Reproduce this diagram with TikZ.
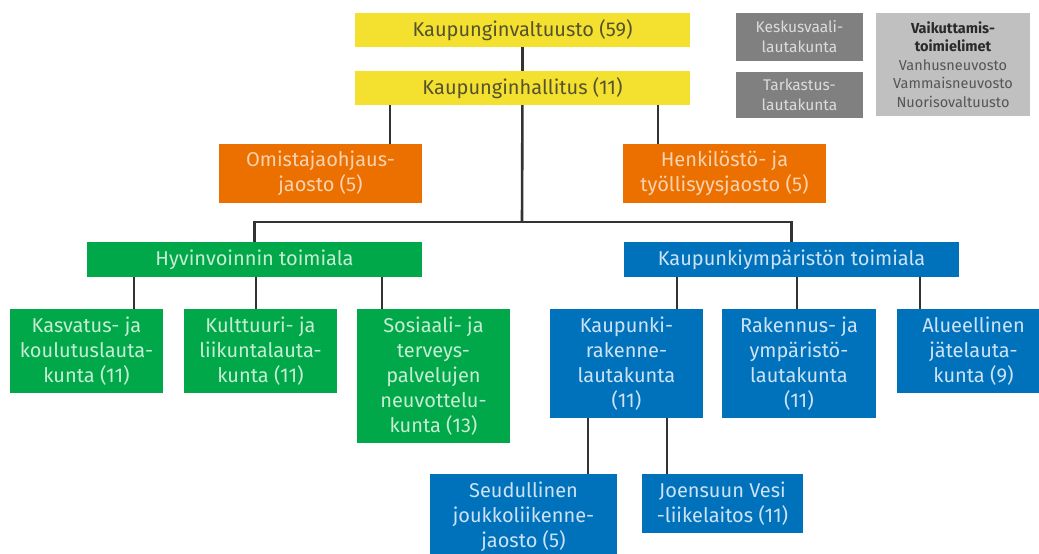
\documentclass[tikz,border=0pt]{standalone}
\usepackage{fontspec}
\setmainfont{Fira Sans}
\definecolor{kvyellow}{HTML}{F4E02E}
\definecolor{kvorange}{HTML}{EB7000}
\definecolor{kvgreen}{HTML}{00A84A}
\definecolor{kvblue}{HTML}{0072BC}
\definecolor{kvdarkgray}{HTML}{808080}
\definecolor{kvlightgray}{HTML}{C0C0C0}
\definecolor{yellowtext}{HTML}{55532F}
\definecolor{orangetext}{HTML}{FAD2B0}
\definecolor{greentext}{HTML}{C6EDD3}
\definecolor{bluetext}{HTML}{CDE2F4}
\definecolor{darkgraytext}{HTML}{DCDCDC}
\definecolor{lightgraytext}{HTML}{555555}
\definecolor{titletext}{HTML}{2A2A2A}
\definecolor{linegray}{HTML}{333333}

\begin{document}
\begin{tikzpicture}[x=1pt,y=-1pt,
  orgbox/.style={inner sep=0pt,align=center,font=\fontsize{20}{25}\selectfont},
  yellowbox/.style={orgbox,fill=kvyellow,text=yellowtext},
  orangebox/.style={orgbox,fill=kvorange,text=orangetext},
  greenbox/.style={orgbox,fill=kvgreen,text=greentext},
  bluebox/.style={orgbox,fill=kvblue,text=bluetext},
  graybox/.style={inner sep=0pt,align=center},
  darkgraybox/.style={graybox,fill=kvdarkgray,text=darkgraytext,font=\fontsize{15.5}{20}\selectfont},
  lightgraybox/.style={graybox,fill=kvlightgray,text=lightgraytext,font=\fontsize{14.5}{18.5}\selectfont},
  link/.style={draw=linegray,line width=2.6pt}]
\useasboundingbox (0,0) rectangle (1039,554);

\node[yellowbox,minimum width=335pt,minimum height=34pt] (valt) at (522.5,30) {Kaupunginvaltuusto (59)};
\node[yellowbox,minimum width=335pt,minimum height=34pt] (hall) at (522.5,88) {Kaupunginhallitus (11)};
\node[orangebox,minimum width=203pt,minimum height=59pt] (omis) at (320.5,173.5) {Omistajaohjaus-\\jaosto (5)};
\node[orangebox,minimum width=203pt,minimum height=59pt] (henk) at (724.5,173.5) {Henkilöstö- ja\\työllisyysjaosto (5)};
\node[greenbox,minimum width=335pt,minimum height=35pt] (hyv) at (254.5,259.5) {Hyvinvoinnin toimiala};
\node[bluebox,minimum width=335pt,minimum height=35pt] (kymp) at (791.5,259.5) {Kaupunkiympäristön toimiala};

\node[greenbox,minimum width=153pt,minimum height=84pt] (kasv) at (86.5,351) {Kasvatus- ja\\koulutuslauta-\\kunta (11)};
\node[greenbox,minimum width=153pt,minimum height=84pt] (kult) at (260.5,351) {Kulttuuri- ja\\liikuntalauta-\\kunta (11)};
\node[greenbox,minimum width=153pt,minimum height=134pt] (sote) at (433.5,376) {Sosiaali- ja\\terveys-\\palvelujen\\neuvottelu-\\kunta (13)};
\node[bluebox,minimum width=153pt,minimum height=109pt] (kaura) at (626.5,363.5) {Kaupunki-\\rakenne-\\lautakunta\\(11)};
\node[bluebox,minimum width=154pt,minimum height=109pt] (raky) at (799,363.5) {Rakennus- ja\\ympäristö-\\lautakunta\\(11)};
\node[bluebox,minimum width=153pt,minimum height=84pt] (jate) at (973.5,351) {Alueellinen\\jätelauta-\\kunta (9)};
\node[bluebox,minimum width=187pt,minimum height=86pt] (joli) at (523.5,517) {Seudullinen\\joukkoliikenne-\\jaosto (5)};
\node[bluebox,minimum width=161pt,minimum height=59pt] (vesi) at (722.5,503.5) {Joensuun Vesi\\-liikelaitos (11)};

\node[darkgraybox,minimum width=127pt,minimum height=48pt] (kvl) at (799.5,37) {Keskusvaali-\\lautakunta};
\node[darkgraybox,minimum width=127pt,minimum height=46pt] (tark) at (799.5,95) {Tarkastus-\\lautakunta};
\node[lightgraybox,minimum width=154pt,minimum height=103pt] (vaik) at (953,64.5) {\textcolor{titletext}{\bfseries Vaikuttamis-}\\\textcolor{titletext}{\bfseries toimielimet}\\Vanhusneuvosto\\Vammaisneuvosto\\Nuorisovaltuusto};

\coordinate (split) at (522,222);
\coordinate (omisx) at (390,0);
\coordinate (henkx) at (658,0);
\coordinate (kasvx) at (134,0);
\coordinate (kultx) at (256,0);
\coordinate (sotex) at (382,0);
\coordinate (kaurax) at (677,0);
\coordinate (rakyx) at (797,0);
\coordinate (jatex) at (920,0);
\coordinate (jolix) at (588,0);
\coordinate (vesix) at (667,0);

\draw[link] (valt) -- (hall);
\draw[link] (hall.south -| omisx) -- (omis.north -| omisx);
\draw[link] (hall.south -| henkx) -- (henk.north -| henkx);
\draw[link] (hall) -- (split);
\draw[link] (hyv) |- (split) -| (kymp);
\draw[link] (hyv.south -| kasvx) -- (kasv.north -| kasvx);
\draw[link] (hyv.south -| kultx) -- (kult.north -| kultx);
\draw[link] (hyv.south -| sotex) -- (sote.north -| sotex);
\draw[link] (kymp.south -| kaurax) -- (kaura.north -| kaurax);
\draw[link] (kymp.south -| rakyx) -- (raky.north -| rakyx);
\draw[link] (kymp.south -| jatex) -- (jate.north -| jatex);
\draw[link] (kaura.south -| jolix) -- (joli.north -| jolix);
\draw[link] (kaura.south -| vesix) -- (vesi.north -| vesix);
\end{tikzpicture}
\end{document}
